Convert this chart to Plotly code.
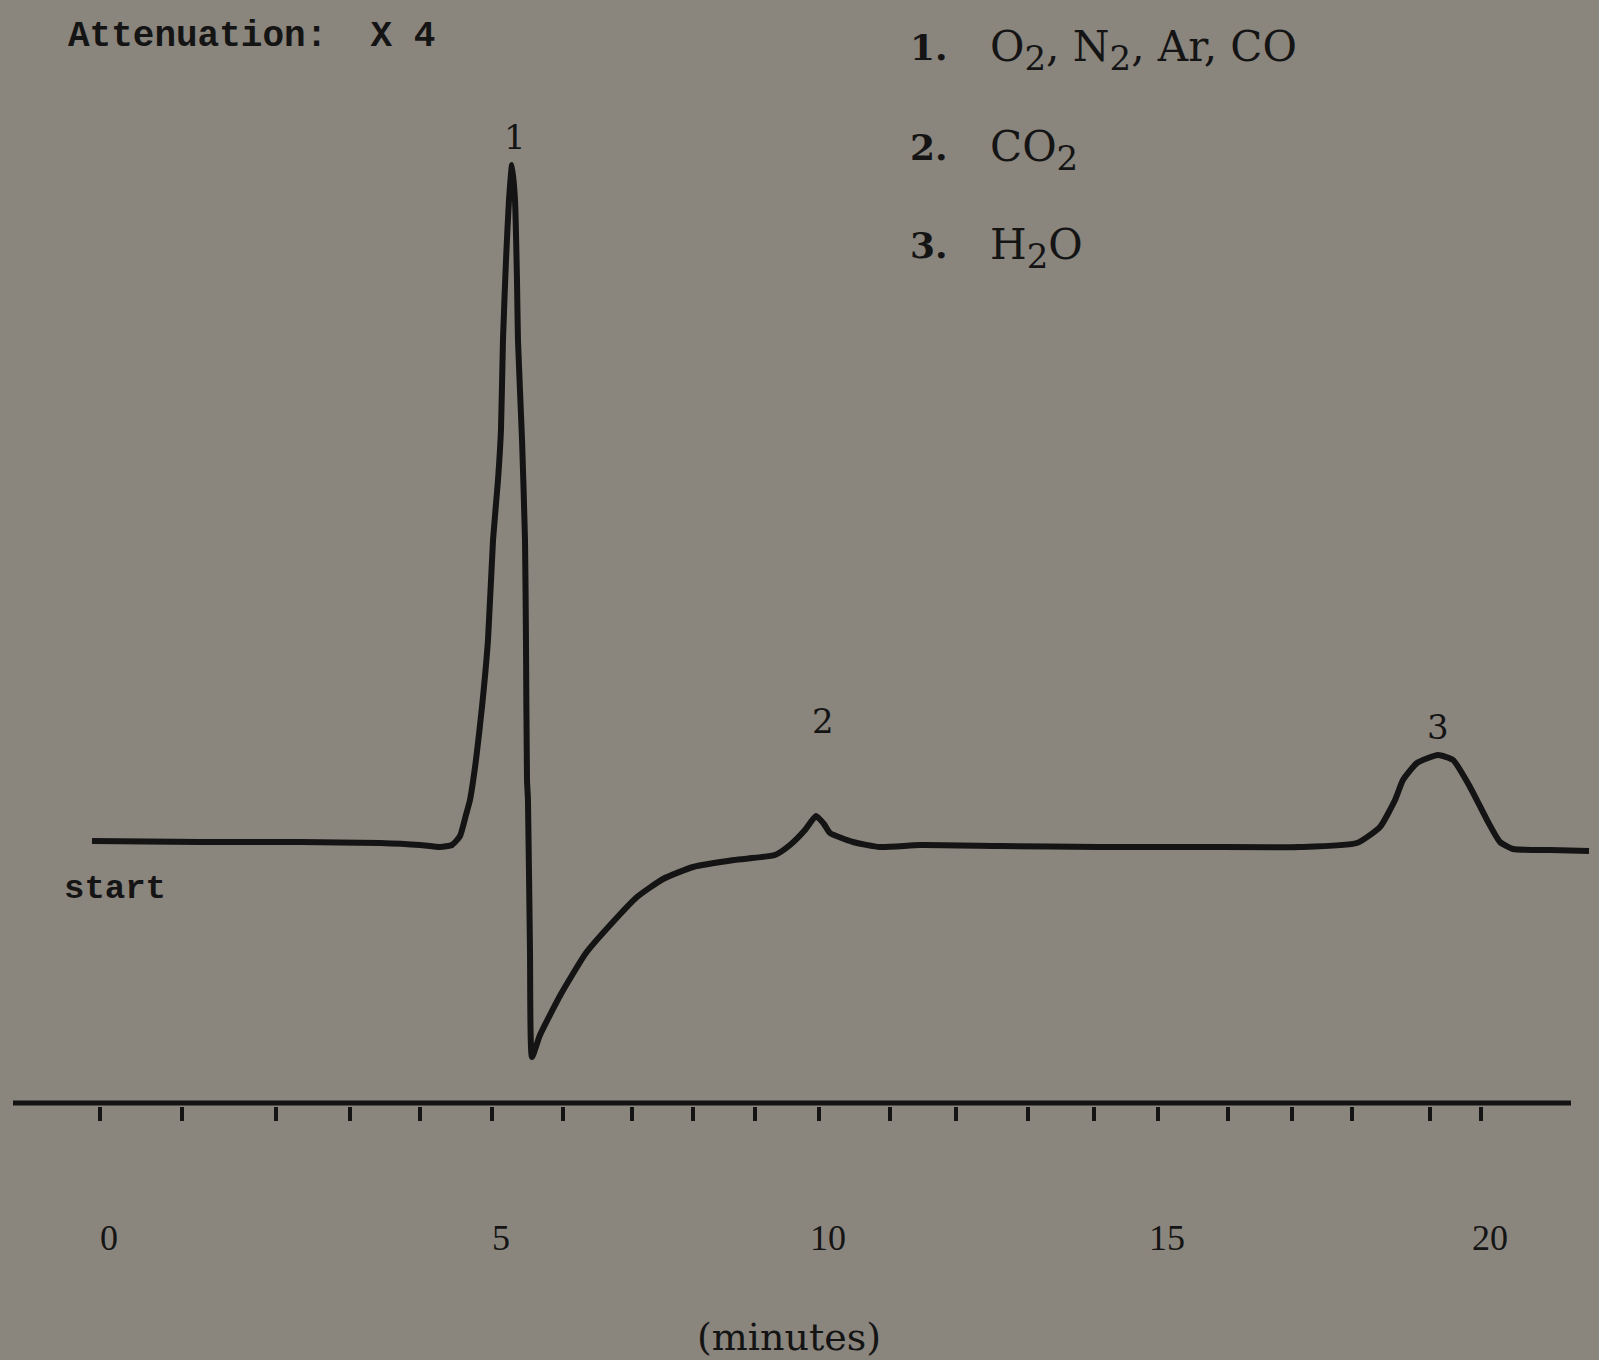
import plotly.graph_objects as go

# ---- data (x: chart minutes, y: detector signal, arbitrary units) ----
time_min = [-0.116, 1.448, 2.896, 4.055, 4.634, 4.924, 5.098, 5.214, 5.300, 5.358,
            5.445, 5.532, 5.619, 5.692, 5.764, 5.807, 5.836, 5.880, 5.923, 5.967,
            6.010, 6.039, 6.053, 6.112, 6.155, 6.169, 6.184, 6.198, 6.227, 6.256,
            6.372, 6.676, 7.038, 7.415, 7.777, 8.154, 8.588, 9.182, 9.775, 9.993,
            10.210, 10.369, 10.485, 10.572, 10.905, 11.296, 11.875, 13.034, 14.482, 15.930,
            17.379, 18.204, 18.537, 18.755, 18.870, 19.073, 19.377, 19.595, 19.841, 20.087,
            20.275, 20.463, 20.999, 21.564]
signal = [0.4, 0.3, 0.3, 0.2, 0.0, -0.2, 0.0, 0.9, 3.0, 4.5,
          8.5, 13.8, 20.5, 30.5, 36.5, 41.5, 50.5, 58.5, 64.5, 68.0,
          64.5, 56.5, 50.5, 40.5, 30.5, 20.5, 6.5, 4.5, -10.5, -21.2,
          -19.0, -14.9, -10.8, -7.8, -5.2, -3.4, -2.2, -1.5, -1.0, 0.0,
          1.5, 2.9, 2.1, 1.2, 0.3, -0.2, 0.0, -0.1, -0.2, -0.2,
          -0.2, 0.2, 1.8, 4.5, 6.5, 8.2, 9.0, 8.5, 5.8, 2.5,
          0.3, -0.4, -0.5, -0.6]

# minute marks on the recorder chart (as they appear on the scan)
tick_pos = [0.000, 1.188, 2.549, 3.621, 4.634, 5.677, 6.705, 7.705, 8.588, 9.486,
            10.413, 11.441, 12.397, 13.439, 14.395, 15.322, 16.336, 17.263, 18.132, 19.261,
            20.000]
tick_text = ["0", "", "", "", "", "5", "", "", "", "",
             "10", "", "", "", "", "15", "", "", "", "",
             "20"]

peak_labels = ["1", "2", "3"]
peak_label_x = [6.010, 10.471, 19.377]
peak_label_y = [70.8, 12.4, 11.8]

legend_nums = ["1.", "2.", "3."]
legend_names = ["O<sub><span style='font-size:34px'>2</span></sub>, N<sub><span style='font-size:34px'>2</span></sub>, Ar, CO",
                "CO<sub><span style='font-size:34px'>2</span></sub>",
                "H<sub><span style='font-size:34px'>2</span></sub>O"]

# ---- layout helpers ----
W, H = 1599, 1360
PLOT_BOTTOM = 1106          # pixel row of the bottom of the plotting area
BG = "#8a857d"
INK = "#141414"


def px(xp):
    return xp / W


def py(yp):
    return (PLOT_BOTTOM - yp) / PLOT_BOTTOM


fig = go.Figure()
fig.add_trace(go.Scatter(x=time_min, y=signal, mode="lines",
                         line=dict(color=INK, width=6, shape="spline", smoothing=0.5),
                         hoverinfo="skip", showlegend=False))

# horizontal time axis line (slightly inside the plotting area so it is not clipped)
fig.add_shape(type="line", xref="paper", yref="y", x0=px(13), x1=px(1571),
              y0=-25.8, y1=-25.8, line=dict(color=INK, width=5))

annotations = []
annotations.append(dict(text="<b>Attenuation:  X 4</b>", xref="paper", yref="paper",
                        x=px(66), y=py(37), xanchor="left", yanchor="middle",
                        showarrow=False, font=dict(family="Liberation Mono", size=36, color=INK)))
annotations.append(dict(text="<b>start</b>", xref="paper", yref="paper",
                        x=px(62), y=py(889), xanchor="left", yanchor="middle",
                        showarrow=False, font=dict(family="Liberation Mono", size=34, color=INK)))
annotations.append(dict(text="(minutes)", xref="paper", yref="paper",
                        x=px(789), y=py(1337), xanchor="center", yanchor="middle",
                        showarrow=False, font=dict(family="DejaVu Serif", size=38, color=INK)))

legend_rows = [50, 150, 248]
for num, name, row in zip(legend_nums, legend_names, legend_rows):
    annotations.append(dict(text="<b>" + num + "</b>", xref="paper", yref="paper", x=px(908), y=py(row - 3),
                            xanchor="left", yanchor="middle", showarrow=False,
                            font=dict(family="DejaVu Serif", size=36, color=INK)))
    annotations.append(dict(text=name, xref="paper", yref="paper", x=px(988), y=py(row),
                            xanchor="left", yanchor="middle", showarrow=False,
                            font=dict(family="DejaVu Serif", size=42, color=INK)))

for lab, lx, ly in zip(peak_labels, peak_label_x, peak_label_y):
    annotations.append(dict(text=lab, x=lx, y=ly, xref="x", yref="y",
                            xanchor="center", yanchor="middle", showarrow=False,
                            font=dict(family="DejaVu Serif", size=34, color=INK)))

fig.update_layout(
    width=W, height=H,
    margin=dict(l=0, r=0, t=0, b=H - PLOT_BOTTOM, pad=0),
    paper_bgcolor=BG, plot_bgcolor=BG,
    showlegend=False,
    annotations=annotations,
    xaxis=dict(range=[-1.4482, 21.7089], showgrid=False, zeroline=False, showline=False,
               tickmode="array", tickvals=tick_pos, ticktext=tick_text,
               ticks="outside", ticklen=14, tickwidth=4, tickcolor=INK,
               ticklabelstandoff=86, ticklabelshift=9,
               tickfont=dict(family="Liberation Serif", size=36, color=INK),
               fixedrange=True),
    yaxis=dict(range=[-26.1, 84.5], visible=False, showgrid=False, zeroline=False,
               fixedrange=True),
)

fig.write_html("out.html", config={"displayModeBar": False},
               post_script="document.body.style.margin='0';document.body.style.overflow='hidden';")
